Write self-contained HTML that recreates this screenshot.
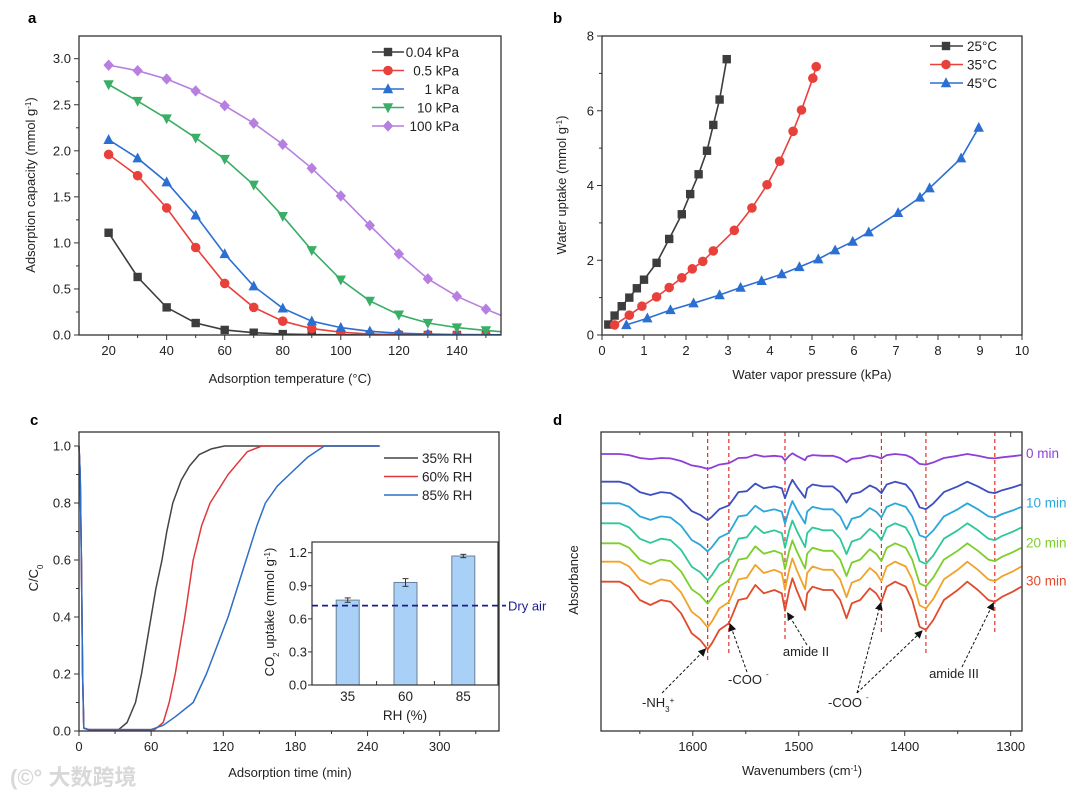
<!DOCTYPE html>
<html><head><meta charset="utf-8"><style>
html,body{margin:0;padding:0;background:#fff}
svg{display:block;font-family:"Liberation Sans","Noto Sans CJK SC",sans-serif}
</style></head><body>
<svg id="fig" width="1080" height="795" viewBox="0 0 1080 795" xmlns="http://www.w3.org/2000/svg">
<text x="10" y="785" font-size="22" fill="#d8d8d8" font-weight="bold">(©° 大数跨境</text>
</svg>
<script>
// ---------- Panel a data ----------
const aTemps=[20,30,40,50,60,70,80,90,100,110,120,130,140,150];
const aP004=[1.11,0.63,0.30,0.13,0.055,0.025,0.01,0.005,0.002,0.001,0,0,0,0];
const aP05=[1.96,1.73,1.38,0.95,0.56,0.30,0.15,0.07,0.03,0.01,0.005,0.002,0.001,0];
const aP1=[2.12,1.92,1.66,1.30,0.88,0.53,0.29,0.15,0.08,0.04,0.02,0.01,0.005,0.003];
const aP10=[2.72,2.54,2.35,2.14,1.91,1.63,1.29,0.92,0.60,0.37,0.22,0.13,0.08,0.05];
const aP100=[2.93,2.87,2.78,2.65,2.49,2.30,2.07,1.81,1.51,1.19,0.88,0.61,0.42,0.28];
const aLegend=["0.04 kPa","0.5  kPa","1  kPa","10  kPa","100  kPa"];
const aYTicks=[0,0.5,1.0,1.5,2.0,2.5,3.0];
const aXTicks=[20,40,60,80,100,120,140];
// ---------- Panel b data ----------
const b25x=[0.15,0.3,0.47,0.65,0.83,1.0,1.3,1.6,1.9,2.1,2.3,2.5,2.65,2.8,2.97];
const b25y=[0.28,0.52,0.77,1.0,1.25,1.48,1.93,2.57,3.23,3.77,4.3,4.93,5.62,6.3,7.38];
const b35x=[0.3,0.65,0.95,1.3,1.6,1.9,2.15,2.4,2.65,3.15,3.57,3.93,4.23,4.55,4.75,5.02,5.1];
const b35y=[0.27,0.53,0.77,1.02,1.27,1.53,1.77,1.97,2.25,2.8,3.4,4.02,4.65,5.45,6.02,6.87,7.18];
const b45x=[0.58,1.08,1.63,2.18,2.8,3.3,3.8,4.28,4.7,5.15,5.55,5.97,6.35,7.05,7.57,7.8,8.55,8.97];
const b45y=[0.27,0.45,0.67,0.85,1.07,1.27,1.45,1.63,1.82,2.03,2.27,2.5,2.75,3.27,3.68,3.93,4.73,5.55];
const bLegend=["25°C","35°C","45°C"];
const bYTicks=[0,2,4,6,8];
const bXTicks=[0,1,2,3,4,5,6,7,8,9,10];
// ---------- Panel c data ----------
const c35t=[0,1,2,3,4,8,33,40,47,52,58,64,69,73,78,85,92,100,110,121,250];
const c35v=[1,0.9,0.6,0.2,0.01,0.005,0.005,0.03,0.1,0.2,0.35,0.5,0.6,0.7,0.8,0.88,0.93,0.97,0.99,1,1];
const c60t=[0,1,2,3,4,8,63,70,75,80,88,95,102,109,124,140,152,250];
const c60v=[1,0.9,0.6,0.2,0.01,0.005,0.005,0.03,0.1,0.2,0.4,0.6,0.72,0.8,0.9,0.98,1,1];
const c85t=[0,1,2,3,4,8,60,70,80,95,106,124,139,148,155,165,175,190,204,250];
const c85v=[1,0.9,0.6,0.2,0.01,0.005,0.005,0.02,0.05,0.1,0.2,0.4,0.6,0.72,0.8,0.86,0.9,0.96,1,1];
const cLegend=["35% RH","60% RH","85% RH"];
const cYTicks=[0,0.2,0.4,0.6,0.8,1.0];
const cXTicks=[0,60,120,180,240,300];
const insetCats=["35","60","85"];
const insetVals=[0.77,0.93,1.17];
const insetErr=[0.02,0.035,0.015];
const insetDry=[0.72];
const insetYTicks=[0,0.3,0.6,0.9,1.2];
// ---------- Panel d data ----------
const dWn=[1686,1669,1660,1650,1640,1630,1621,1611,1601,1593,1586,1582,1575,1566,1562,1557,1549,1541,1533,1523,1516,1513,1509,1506,1502,1494,1492,1487,1477,1468,1461,1455,1450,1442,1433,1427,1422,1417,1409,1399,1393,1386,1380,1373,1363,1350,1341,1331,1321,1315,1308,1298,1290];
const dDepth=[0,0,15,55,70,55,60,95,155,175,203,185,145,125,95,55,50,10,35,25,35,87,25,-10,25,85,35,15,25,25,55,110,65,55,20,35,60,15,0,15,55,135,145,115,55,25,0,25,55,60,45,30,15];
const dBase=[8.38,7.55,6.9,6.3,5.7,5.15,4.55];
const dAmp=[0.22,0.57,0.71,0.84,0.89,0.97,1.0];
const dColors=["#8e3fd8","#3d4fbe","#2ba6dc","#2ec79a","#7ccf2a","#f0a329","#e24a2c"];
const dTimeLabels=["0 min","10 min","20 min","30 min"];
const dTimeIdx=[0,2,4,6];
const dPeaks=[1586,1566,1513,1422,1380,1315];
const dPeakBottom=[662,653,640,633,655,632];
const dXTicks=[1600,1500,1400,1300];

const NS="http://www.w3.org/2000/svg";
const svg=document.getElementById('fig');
function el(tag,attrs,parent){const e=document.createElementNS(NS,tag);for(const k in attrs)e.setAttribute(k,attrs[k]);(parent||svg).appendChild(e);return e;}
function txt(s,x,y,size,anchor,parent,extra){const t=el('text',Object.assign({x:x,y:y,'font-size':size,'text-anchor':anchor||'start',fill:'#222'},extra||{}),parent);t.textContent=s;return t;}
function lin(d0,d1,r0,r1){return v=>r0+(v-d0)*(r1-r0)/(d1-d0);}
function pathOf(xs,ys,X,Y){return xs.map((v,i)=>(i?'L':'M')+X(v).toFixed(1)+','+Y(ys[i]).toFixed(1)).join('');}
function marker(type,x,y,c,g){
  const s=4.2;let e;
  if(type==='sq')e=el('rect',{x:x-s,y:y-s,width:2*s,height:2*s,fill:c},g);
  else if(type==='ci')e=el('circle',{cx:x,cy:y,r:s+0.6,fill:c},g);
  else if(type==='up')e=el('polygon',{points:`${x},${y-s-1.5} ${x-s-1},${y+s} ${x+s+1},${y+s}`,fill:c},g);
  else if(type==='dn')e=el('polygon',{points:`${x},${y+s+1.5} ${x-s-1},${y-s} ${x+s+1},${y-s}`,fill:c},g);
  else e=el('polygon',{points:`${x},${y-s-1.5} ${x+s+1},${y} ${x},${y+s+1.5} ${x-s-1},${y}`,fill:c},g);
  return e;
}
function frame(x0,y0,x1,y1,g){el('rect',{x:x0,y:y0,width:x1-x0,height:y1-y0,fill:'none',stroke:'#333','stroke-width':1.3},g);}

// ================= Panel a =================
(function(){
const g=el('g',{});


const X=lin(20,140,108.6,456.9),Y=lin(0,3,335,58.7);
const L=79,R=501,T=36,B=335;
const lab=txt('a',28,23,15,'start',g,{'font-weight':'bold',fill:'#000'});

aYTicks.forEach(v=>{el('line',{x1:L-5,x2:L,y1:Y(v),y2:Y(v),stroke:'#333'},g);txt(v.toFixed(1),L-8,Y(v)+4.5,13,'end',g);});
for(let v=0.25;v<3.1;v+=0.5)el('line',{x1:L-3,x2:L,y1:Y(v),y2:Y(v),stroke:'#333'},g);
aXTicks.forEach(v=>{el('line',{x1:X(v),x2:X(v),y1:B,y2:B+5,stroke:'#333'},g);txt(String(v),X(v),B+20,13,'middle',g);});
for(let v=30;v<=150;v+=20)el('line',{x1:X(v),x2:X(v),y1:B,y2:B+3,stroke:'#333'},g);
const series=[[aP004,'#3d3d3d','sq'],[aP05,'#e8413c','ci'],[aP1,'#2b6fd3','up'],[aP10,'#3aad66','dn'],[aP100,'#b67fe0','di']];
const cp=el('clipPath',{id:'clipA'},g);el('rect',{x:L,y:T,width:R-L,height:B-T},cp);
const names=['series-0.04kpa','series-0.5kpa','series-1kpa','series-10kpa','series-100kpa'];
series.forEach((s,i)=>{
  const sg=el('g',{'clip-path':'url(#clipA)'},g);
  
  const xs=aTemps.concat([155.5]);const ys=s[0].concat([s[0][13]-(s[0][12]-s[0][13])*0.5]);
  el('path',{d:pathOf(xs,ys,X,Y),fill:'none',stroke:s[1],'stroke-width':1.6},sg);
  aTemps.forEach((t,k)=>marker(s[2],X(t),Y(s[0][k]),s[1],sg));
  const lg=el('g',{},g);
  
  const ly=52+i*18.5;
  el('line',{x1:372,x2:404,y1:ly,y2:ly,stroke:s[1],'stroke-width':1.6},lg);marker(s[2],388,ly,s[1],lg);
  txt(aLegend[i],459,ly+5,13.5,'end',lg);
});
frame(L,T,R,B,g);
const yl=txt('Adsorption capacity (mmol g',0,0,13,'middle',g,{transform:'translate(35,185) rotate(-90)'});
const sup=el('tspan',{'baseline-shift':'super','font-size':8},yl);sup.textContent='-1';const tp=el('tspan',{},yl);tp.textContent=')';

const xl=txt('Adsorption temperature (°C)',290,383,13,'middle',g);

})();

// ================= Panel b =================
(function(){
const g=el('g',{});


const X=lin(0,10,602,1022),Y=lin(0,8,335,36);
const L=602,R=1022,T=36,B=335;
const lab=txt('b',553,23,15,'start',g,{'font-weight':'bold',fill:'#000'});

bYTicks.forEach(v=>{el('line',{x1:L-5,x2:L,y1:Y(v),y2:Y(v),stroke:'#333'},g);txt(String(v),L-8,Y(v)+4.5,13,'end',g);});
for(let v=1;v<8;v+=2)el('line',{x1:L-3,x2:L,y1:Y(v),y2:Y(v),stroke:'#333'},g);
bXTicks.forEach(v=>{el('line',{x1:X(v),x2:X(v),y1:B,y2:B+5,stroke:'#333'},g);txt(String(v),X(v),B+20,13,'middle',g);});
for(let v=0.5;v<10;v+=1)el('line',{x1:X(v),x2:X(v),y1:B,y2:B+3,stroke:'#333'},g);
const series=[[b25x,b25y,'#3d3d3d','sq','series-25c'],[b35x,b35y,'#e8413c','ci','series-35c'],[b45x,b45y,'#2b6fd3','up','series-45c']];
series.forEach((s,i)=>{
  const sg=el('g',{},g);
  
  el('path',{d:pathOf(s[0],s[1],X,Y),fill:'none',stroke:s[2],'stroke-width':1.6},sg);
  s[0].forEach((v,k)=>marker(s[3],X(v),Y(s[1][k]),s[2],sg));
  const lg=el('g',{},g);
  
  const ly=46+i*18.5;
  el('line',{x1:930,x2:963,y1:ly,y2:ly,stroke:s[2],'stroke-width':1.6},lg);marker(s[3],946,ly,s[2],lg);
  txt(bLegend[i],967,ly+5,13.5,'start',lg);
});
frame(L,T,R,B,g);
const yl=txt('Water uptake (mmol g',0,0,13,'middle',g,{transform:'translate(566,185) rotate(-90)'});
const sup=el('tspan',{'baseline-shift':'super','font-size':8},yl);sup.textContent='-1';const tp=el('tspan',{},yl);tp.textContent=')';

const xl=txt('Water vapor pressure (kPa)',812,379,13,'middle',g);

})();

// ================= Panel c =================
(function(){
const g=el('g',{});


const X=lin(0,300,79,439.7),Y=lin(0,1,731,446);
const L=79,R=499,T=432,B=731;
const lab=txt('c',30,425,15,'start',g,{'font-weight':'bold',fill:'#000'});

cYTicks.forEach(v=>{el('line',{x1:L-5,x2:L,y1:Y(v),y2:Y(v),stroke:'#333'},g);txt(v.toFixed(1),L-8,Y(v)+4.5,13,'end',g);});
for(let v=0.1;v<1;v+=0.2)el('line',{x1:L-3,x2:L,y1:Y(v),y2:Y(v),stroke:'#333'},g);
cXTicks.forEach(v=>{el('line',{x1:X(v),x2:X(v),y1:B,y2:B+5,stroke:'#333'},g);txt(String(v),X(v),B+20,13,'middle',g);});
for(let v=30;v<350;v+=60)el('line',{x1:X(v),x2:X(v),y1:B,y2:B+3,stroke:'#333'},g);
const series=[[c35t,c35v,'#444','series-35rh'],[c60t,c60v,'#e0383c','series-60rh'],[c85t,c85v,'#2e6ec8','series-85rh']];
series.forEach((s,i)=>{
  const p=el('path',{d:pathOf(s[0],s[1],X,Y),fill:'none',stroke:s[2],'stroke-width':1.5,'stroke-linejoin':'round'},g);
  
  const lg=el('g',{},g);
  
  const ly=458+i*18.5;
  el('line',{x1:384,x2:418,y1:ly,y2:ly,stroke:s[2],'stroke-width':1.5},lg);
  txt(cLegend[i],422,ly+5,13.5,'start',lg);
});
frame(L,T,R,B,g);
const yl=txt('C/C',0,0,13,'middle',g,{transform:'translate(38,578) rotate(-90)'});
const sb=el('tspan',{'baseline-shift':'sub','font-size':8},yl);sb.textContent='0';

const xl=txt('Adsorption time (min)',290,777,13,'middle',g);

// inset
const ig=el('g',{},g);

const iL=312,iR=498,iT=542,iB=685;
el('rect',{x:iL,y:iT,width:iR-iL,height:iB-iT,fill:'#fff'},ig);
const IY=lin(0,1.2,685,552.7);
const IX=i=>347.7+i*57.8;
insetYTicks.forEach(v=>{el('line',{x1:iL-4,x2:iL,y1:IY(v),y2:IY(v),stroke:'#333'},ig);txt(v.toFixed(1),iL-5,IY(v)+4.5,13,'end',ig);});
insetCats.forEach((c,i)=>{
  const bx=IX(i);
  const r=el('rect',{x:bx-11.5,y:IY(insetVals[i]),width:23,height:IY(0)-IY(insetVals[i]),fill:'#a9d1f7',stroke:'#6a7f95','stroke-width':1},ig);
  
  const e1=IY(insetVals[i]+insetErr[i]),e2=IY(insetVals[i]-insetErr[i]);
  el('line',{x1:bx,x2:bx,y1:e1,y2:e2,stroke:'#333'},ig);
  el('line',{x1:bx-3,x2:bx+3,y1:e1,y2:e1,stroke:'#333'},ig);
  el('line',{x1:bx-3,x2:bx+3,y1:e2,y2:e2,stroke:'#333'},ig);
  txt(c,bx,701,13.5,'middle',ig);
  if(i<2)el('line',{x1:bx+28.9,x2:bx+28.9,y1:iB-4,y2:iB,stroke:'#333'},ig);
});
el('rect',{x:iL,y:iT,width:iR-iL,height:iB-iT,fill:'none',stroke:'#333','stroke-width':1.2},ig);
const dl=el('line',{x1:iL,x2:506,y1:IY(insetDry[0]),y2:IY(insetDry[0]),stroke:'#1c1c8c','stroke-width':1.8,'stroke-dasharray':'6,4'},ig);

txt('Dry air',508,IY(insetDry[0])+5,13,'start',ig,{fill:'#1c1c8c'});
txt('RH (%)',405,720,13.5,'middle',ig);
const iy=txt('CO',0,0,13,'middle',ig,{transform:'translate(274,612) rotate(-90)'});
const s2=el('tspan',{'baseline-shift':'sub','font-size':8},iy);s2.textContent='2';
const s3=el('tspan',{},iy);s3.textContent=' uptake (mmol g';
const s4=el('tspan',{'baseline-shift':'super','font-size':8},iy);s4.textContent='-1';
const s5=el('tspan',{},iy);s5.textContent=')';
})();

// ================= Panel d =================
(function(){
const g=el('g',{});


const X=lin(1600,1300,692.8,1010.7);
const Y=a=>400+(1000-100*a)/3;
const L=601,R=1022,T=432,B=731;
const lab=txt('d',553,425,15,'start',g,{'font-weight':'bold',fill:'#000'});

dXTicks.forEach(v=>{el('line',{x1:X(v),x2:X(v),y1:B,y2:B+5,stroke:'#333'},g);el('line',{x1:X(v),x2:X(v),y1:T,y2:T+5,stroke:'#333'},g);txt(String(v),X(v),B+20,13,'middle',g);});
[1650,1550,1450,1350].forEach(v=>{el('line',{x1:X(v),x2:X(v),y1:B,y2:B+3,stroke:'#333'},g);el('line',{x1:X(v),x2:X(v),y1:T,y2:T+3,stroke:'#333'},g);});
dPeaks.forEach((p,i)=>{
  const l=el('line',{x1:X(p),x2:X(p),y1:T,y2:dPeakBottom[i],stroke:'#e0302c','stroke-width':1.2,'stroke-dasharray':'4,3'},g);
  
});
dBase.forEach((b,i)=>{
  const vals=dDepth.map(d=>b-dAmp[i]*d/100);
  const p=el('path',{d:pathOf(dWn,vals,X,Y),fill:'none',stroke:dColors[i],'stroke-width':1.8,'stroke-linejoin':'round'},g);
  
});
dTimeLabels.forEach((t,k)=>{
  const i=dTimeIdx[k];
  const tl=txt(t,1026,Y(dBase[i])+4,13.5,'start',g,{fill:dColors[i]});
  
});
frame(L,T,R,B,g);
el('defs',{},g).innerHTML='<marker id="ah" markerWidth="8" markerHeight="8" refX="7" refY="4" orient="auto" markerUnits="userSpaceOnUse"><path d="M0,0 L8,4 L0,8 z" fill="#111"/></marker>';
const arrows=[[662,693,705.5,649],[747,672,730,624],[807,645,787.6,613],[857,693,880.7,603],[857,693,922,631],[962,667,993.4,603]];
arrows.forEach(a=>{
  const l=el('line',{x1:a[0],y1:a[1],x2:a[2],y2:a[3],stroke:'#111','stroke-width':1,'stroke-dasharray':'3,2','marker-end':'url(#ah)'},g);
  
});
const t1=txt('-NH',642,707,13,'start',g);const a1=el('tspan',{'baseline-shift':'sub','font-size':8},t1);a1.textContent='3';const a2=el('tspan',{'baseline-shift':'super','font-size':8},t1);a2.textContent='+';
txt('-COO',728,684,13,'start',g);txt('-',766,677,8,'start',g);
txt('amide II',806,656,13,'middle',g);
txt('-COO',828,707,13,'start',g);txt('-',866,700,8,'start',g);
txt('amide III',954,678,13,'middle',g);
const yl=txt('Absorbance',0,0,13,'middle',g,{transform:'translate(578,580) rotate(-90)'});

const xl=txt('Wavenumbers (cm',802,775,13,'middle',g);
const xs=el('tspan',{'baseline-shift':'super','font-size':8},xl);xs.textContent='-1';const xt=el('tspan',{},xl);xt.textContent=')';

})();
</script>
</body></html>
